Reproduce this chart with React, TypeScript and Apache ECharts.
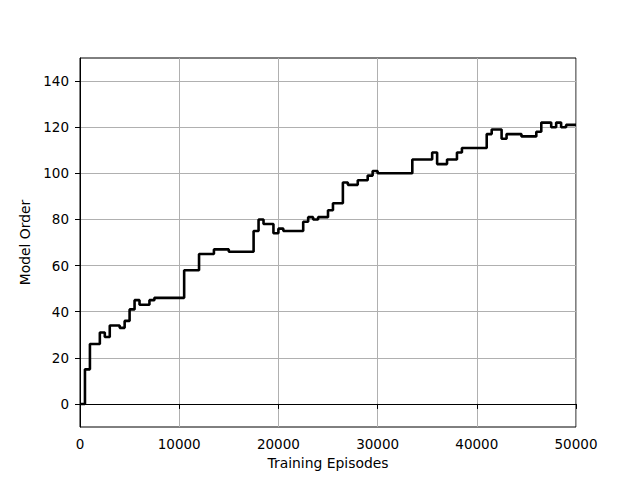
import React, { useEffect, useRef } from "react";
import * as echarts from "echarts";

const stepEpisodes = [
  0, 500, 1000, 2000, 2500, 3000, 4000, 4500, 5000, 5500, 6000, 7000, 7500,
  10500, 12000, 13500, 15000, 17500, 18000, 18500, 19500, 20000, 20500,
  22500, 23000, 23500, 24000, 25000, 25500, 26500, 27000, 28000, 29000,
  29500, 30000, 33500, 35500, 36000, 37000, 38000, 38500, 41000, 41500,
  42500, 43000, 44500, 46000, 46500, 47500, 48000, 48500, 49000, 50000,
];
const modelOrder = [
  0, 15, 26, 31, 29, 34, 33, 36, 41, 45, 43, 45, 46,
  58, 65, 67, 66, 75, 80, 78, 74, 76, 75,
  79, 81, 80, 81, 84, 87, 96, 95, 97, 99,
  101, 100, 106, 109, 104, 106, 109, 111, 117, 119,
  115, 117, 116, 118, 122, 120, 122, 120, 121, 121,
];
const xTicks = [0, 10000, 20000, 30000, 40000, 50000];
const yTicks = [0, 20, 40, 60, 80, 100, 120, 140];

export default function App() {
  const ref = useRef<HTMLDivElement>(null);
  useEffect(() => {
    document.body.style.margin = "0";
    const chart = echarts.init(ref.current!, null, { renderer: "svg" });
    const font = "DejaVu Sans";
    chart.setOption({
      animation: false,
      backgroundColor: "#fff",
      grid: {
        left: 80,
        top: 58,
        width: 496,
        height: 369,
        show: true,
        borderColor: "#000",
        borderWidth: 1,
        backgroundColor: "transparent",
      },
      xAxis: {
        type: "value",
        min: 0,
        max: 50000,
        name: "Training Episodes",
        nameLocation: "middle",
        nameGap: 29,
        nameTextStyle: { fontFamily: font, fontSize: 13.9, color: "#000" },
        axisLine: { show: true, lineStyle: { color: "#000", width: 1 } },
        axisTick: {
          show: true,
          inside: false,
          length: 5,
          customValues: xTicks,
          lineStyle: { color: "#000", width: 1 },
        },
        axisLabel: {
          customValues: xTicks,
          formatter: (v: number) => String(v),
          margin: 10,
          fontFamily: font,
          fontSize: 13.5,
          color: "#000",
        },
        splitLine: { show: true, lineStyle: { color: "#b0b0b0", width: 1 } },
      },
      yAxis: {
        type: "value",
        min: -10,
        max: 150,
        name: "Model Order",
        nameLocation: "middle",
        nameGap: 41,
        nameTextStyle: { fontFamily: font, fontSize: 13.9, color: "#000" },
        axisLine: { show: true, lineStyle: { color: "#000", width: 1 } },
        axisTick: {
          show: true,
          inside: false,
          length: 5,
          customValues: yTicks,
          lineStyle: { color: "#000", width: 1 },
        },
        axisLabel: {
          customValues: yTicks,
          formatter: (v: number) => String(v),
          margin: 11,
          fontFamily: font,
          fontSize: 13.5,
          color: "#000",
        },
        splitLine: { show: true, lineStyle: { color: "#b0b0b0", width: 1 } },
      },
      series: [
        {
          type: "line",
          step: "end",
          showSymbol: false,
          symbol: "none",
          data: stepEpisodes.map((x, i) => [x, modelOrder[i]]),
          lineStyle: { color: "#000", width: 2.6 },
          clip: true,
        },
      ],
    });
    return () => chart.dispose();
  }, []);
  return <div ref={ref} style={{ width: 640, height: 480 }} />;
}
